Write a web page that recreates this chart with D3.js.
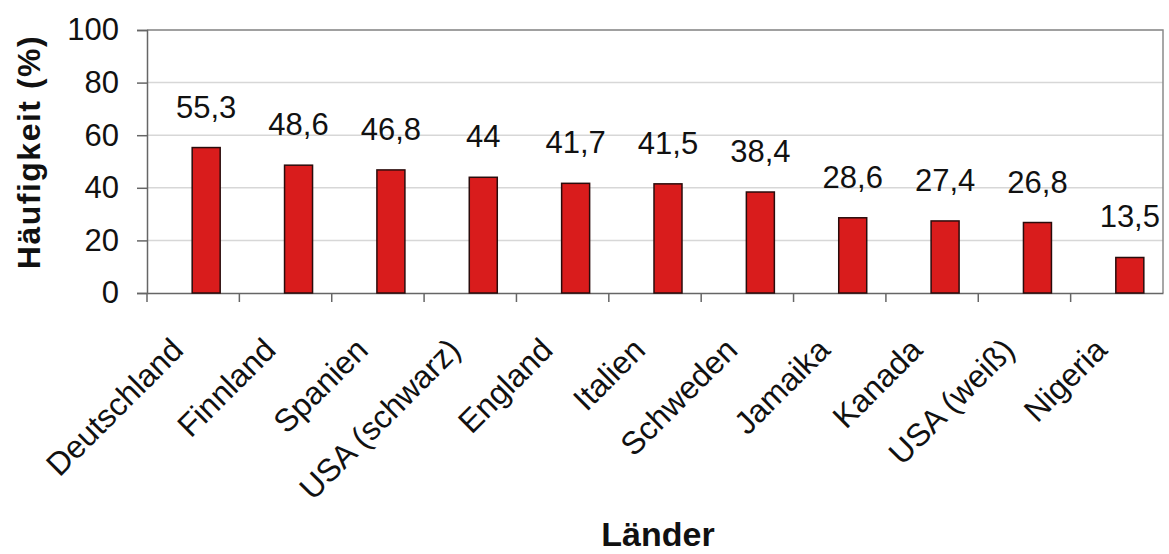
<!DOCTYPE html>
<html>
<head>
<meta charset="utf-8">
<script src="https://cdn.jsdelivr.net/npm/d3@7"></script>
<style>
body { margin: 0; background: #fff; }
text { font-family: "Liberation Sans", Arial, sans-serif; fill: #111; }
</style>
</head>
<body>
<script>
// data
var laender = ["Deutschland", "Finnland", "Spanien", "USA (schwarz)", "England", "Italien",
               "Schweden", "Jamaika", "Kanada", "USA (weiß)", "Nigeria"];
var haeufigkeit = [55.3, 48.6, 46.8, 44, 41.7, 41.5, 38.4, 28.6, 27.4, 26.8, 13.5];
var yTicks = [0, 20, 40, 60, 80, 100];

var svg = d3.select("body").append("svg")
  .attr("width", 1169)
  .attr("height", 554);

var mLeft = 147, mRight = 1163, mTop = 30, mBottom = 293;

var x = d3.scaleBand().domain(laender).range([mLeft, mRight]).padding(0);
var y = d3.scaleLinear().domain([0, 100]).range([mBottom, mTop]);

var barW = 28, barShift = 13;

// grid lines
svg.append("g").selectAll("line")
  .data(yTicks.filter(function(d) { return d > 0; }))
  .enter().append("line")
  .attr("x1", mLeft).attr("x2", mRight)
  .attr("y1", function(d) { return y(d); })
  .attr("y2", function(d) { return y(d); })
  .attr("stroke", d3.rgb(215, 215, 215))
  .attr("stroke-width", 1.5);

// plot frame (top + right)
svg.append("path")
  .attr("d", "M" + mLeft + "," + mTop + "H" + mRight + "V" + mBottom)
  .attr("fill", "none")
  .attr("stroke", "#8a8a8a")
  .attr("stroke-width", 1.5);

// y axis
var yAxis = svg.append("g")
  .attr("transform", "translate(" + mLeft + ",0)")
  .call(d3.axisLeft(y).tickValues(yTicks).tickSize(10).tickPadding(18));
yAxis.select(".domain").attr("stroke", "#666").attr("stroke-width", 1.5);
yAxis.selectAll(".tick line").attr("stroke", "#666").attr("stroke-width", 1.5);
yAxis.selectAll(".tick text")
  .style("font-size", "31px")
  .attr("fill", "#111");

// x axis
var xAxis = svg.append("g")
  .attr("transform", "translate(0," + mBottom + ")")
  .call(d3.axisBottom(x).tickSize(0).tickFormat(""));
xAxis.select(".domain").attr("stroke", "#666").attr("stroke-width", 1.5);

// category separators
svg.append("g").selectAll("line")
  .data(laender)
  .enter().append("line")
  .attr("x1", function(d) { return x(d); })
  .attr("x2", function(d) { return x(d); })
  .attr("y1", mBottom).attr("y2", mBottom + 9)
  .attr("stroke", "#666")
  .attr("stroke-width", 1.5);

// bars
svg.append("g").selectAll("rect")
  .data(haeufigkeit)
  .enter().append("rect")
  .attr("x", function(d, i) { return x(laender[i]) + x.bandwidth() / 2 - barW / 2 + barShift; })
  .attr("y", function(d) { return y(d); })
  .attr("width", barW)
  .attr("height", function(d) { return mBottom - y(d); })
  .attr("fill", "#d91c1c")
  .attr("stroke", "#2a0c0c")
  .attr("stroke-width", 1.5);

// value labels
svg.append("g").selectAll("text")
  .data(haeufigkeit)
  .enter().append("text")
  .attr("x", function(d, i) { return x(laender[i]) + x.bandwidth() / 2 + barShift; })
  .attr("y", function(d) { return y(d) - 30; })
  .attr("text-anchor", "middle")
  .style("font-size", "31px")
  .text(function(d) { return String(d).replace(".", ","); });

// category labels
svg.append("g").selectAll("text")
  .data(laender)
  .enter().append("text")
  .attr("transform", function(d) {
    return "translate(" + (x(d) + x.bandwidth() / 2 - 8) + "," + (mBottom + 59) + ") rotate(-45)";
  })
  .attr("text-anchor", "end")
  .style("font-size", "32px")
  .text(function(d) { return d; });

// axis titles
svg.append("text")
  .attr("transform", "translate(40,152) rotate(-90)")
  .attr("text-anchor", "middle")
  .style("font-size", "32px")
  .style("font-weight", "bold")
  .style("letter-spacing", "1.5px")
  .text("Häufigkeit (%)");

svg.append("text")
  .attr("x", 658)
  .attr("y", 546)
  .attr("text-anchor", "middle")
  .style("font-size", "34px")
  .style("font-weight", "bold")
  .text("Länder");
</script>
</body>
</html>
